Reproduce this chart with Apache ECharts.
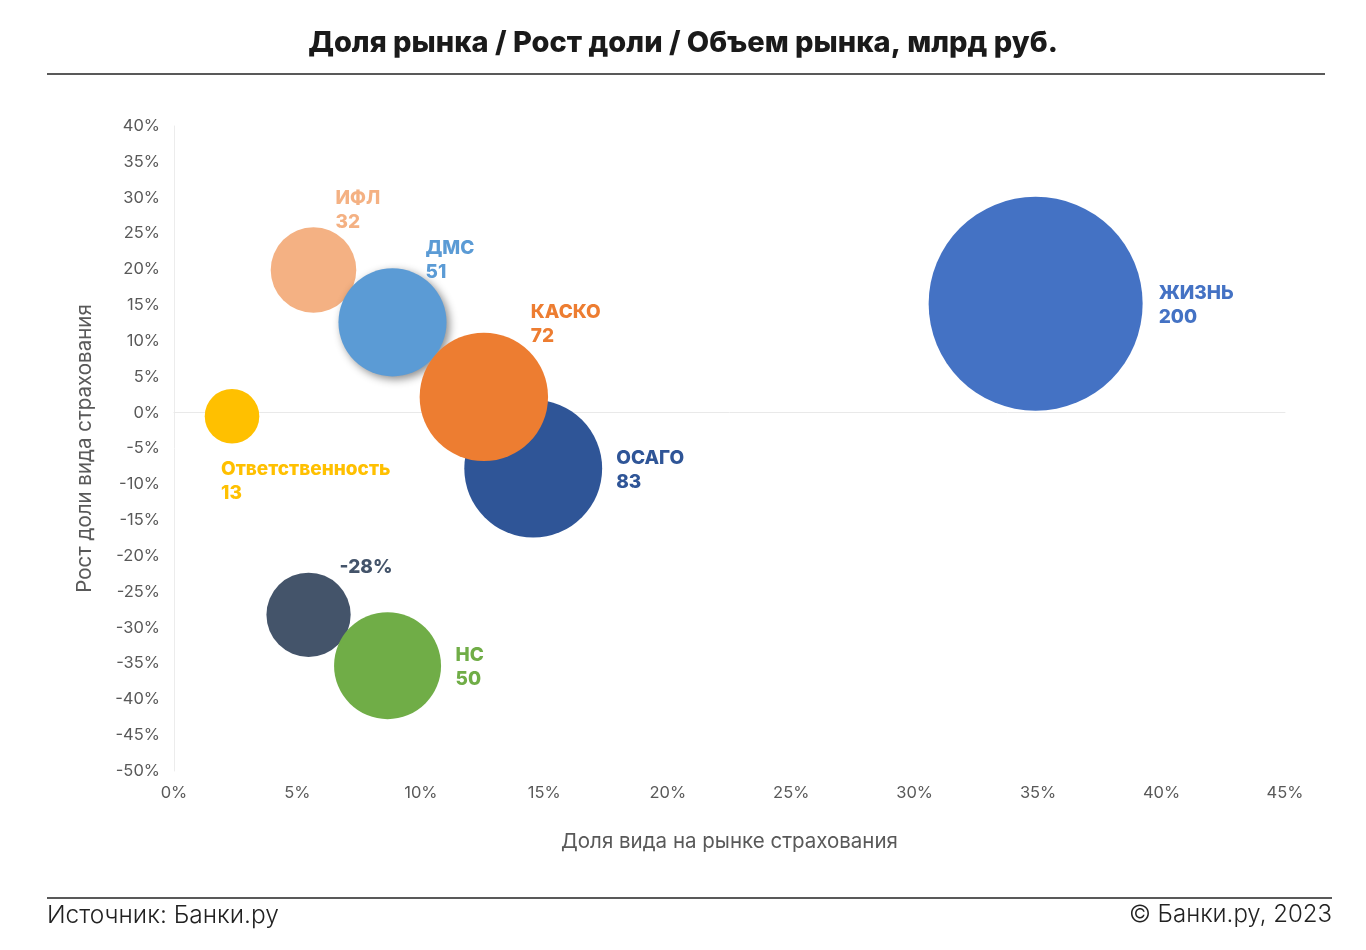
<!DOCTYPE html>
<html><head><meta charset="utf-8">
<script src="https://cdn.jsdelivr.net/npm/echarts@6/dist/echarts.min.js"></script>
<style>html,body{margin:0;padding:0;background:#fff}#c{width:1366px;height:950px}</style>
</head><body><div id="c"></div>
<script>
// ---- data ----
const names = ['ЖИЗНЬ','ОСАГО','ИФЛ','ДМС','КАСКО','Ответственность','Прочее','НС'];
const shareX = [34.9, 14.55, 5.65, 8.85, 12.55, 2.35, 5.45, 8.65];   // Доля вида на рынке, %
const growthY = [15.2, -7.8, 19.9, 12.6, 2.2, -0.5, -28.2, -35.3];   // Рост доли, %
const volume = [200, 83, 32, 51, 72, 13, 31, 50];                     // Объем рынка, млрд руб.
const labelTexts = ['ЖИЗНЬ\n200','ОСАГО\n83','ИФЛ\n32','ДМС\n51','КАСКО\n72','Ответственность\n13','-28%','НС\n50'];
const xTicks = {min: 0, max: 45, interval: 5};
const yTicks = {min: -50, max: 40, interval: 5};

// ---- styles ----
const colors = ['#4472C4','#2F5597','#F4B183','#5B9BD5','#ED7D31','#FFC000','#44546A','#70AD47'];
const labelOffsets = [[123,2],[83,2],[22,-60],[33,-62],[47,-73],[-11,65],[31,-47],[68,2]];
const shadowed = [false,false,false,true,false,false,false,false];
const maxDiameter = 214;
const FONT = 'Inter';

const chart = echarts.init(document.getElementById('c'));
const data = names.map((n,i)=>({
  name: n,
  value: [shareX[i], growthY[i], volume[i]],
  itemStyle: Object.assign({color: colors[i], opacity: 1},
    shadowed[i] ? {shadowBlur: 8, shadowColor: 'rgba(0,0,0,0.45)', shadowOffsetX: 3, shadowOffsetY: 3} : {}),
  label: {
    show: true, position: 'inside', align: 'left', verticalAlign: 'middle',
    offset: labelOffsets[i], formatter: labelTexts[i],
    color: colors[i], fontFamily: FONT, fontWeight: 800, fontSize: 19, lineHeight: 24
  }
}));

chart.setOption({
  animation: false,
  backgroundColor: '#fff',
  textStyle: {fontFamily: FONT},
  grid: {left: 174, right: 81, top: 126, bottom: 179, containLabel: false},
  xAxis: [{
    type: 'value', min: xTicks.min, max: xTicks.max, interval: xTicks.interval,
    axisLine: {show: false, onZero: false}, axisTick: {show: false}, splitLine: {show: false},
    axisLabel: {formatter: '{value}%', color: '#595959', fontSize: 16.5, margin: 14, fontFamily: FONT},
    name: 'Доля вида на рынке страхования', nameLocation: 'middle', nameGap: 60,
    nameTextStyle: {color: '#595959', fontSize: 20.5, fontFamily: FONT}
  },{
    type: 'value', min: xTicks.min, max: xTicks.max, interval: xTicks.interval,
    axisLine: {show: true, onZero: true, lineStyle: {color: '#e9e9e9', width: 1}},
    axisTick: {show: false}, axisLabel: {show: false}, splitLine: {show: false}
  }],
  yAxis: {
    type: 'value', min: yTicks.min, max: yTicks.max, interval: yTicks.interval,
    axisLine: {show: true, lineStyle: {color: '#ececec', width: 1}}, axisTick: {show: false}, splitLine: {show: false},
    axisLabel: {formatter: '{value}%', color: '#595959', fontSize: 16.5, margin: 14, fontFamily: FONT},
    name: 'Рост доли вида страхования', nameLocation: 'middle', nameGap: 79,
    nameTextStyle: {color: '#595959', fontSize: 20.5, fontFamily: FONT}
  },
  series: [{
    type: 'scatter', xAxisIndex: 0, data: data,
    symbolSize: v => maxDiameter * Math.sqrt(v[2] / Math.max(...volume)),
    emphasis: {disabled: true}
  }],
  graphic: [
    {type: 'text', left: 'center', top: 29, style: {text: 'Доля рынка / Рост доли / Объем рынка, млрд руб.', font: '800 29px ' + FONT, fill: '#1a1a1a'}},
    {type: 'line', shape: {x1: 47, y1: 74, x2: 1325, y2: 74}, style: {stroke: '#222', lineWidth: 1.5}},
    {type: 'line', shape: {x1: 47, y1: 898, x2: 1332, y2: 898}, style: {stroke: '#222', lineWidth: 1.5}},
    {type: 'text', left: 47, top: 903, style: {text: 'Источник: Банки.ру', font: '300 24.5px ' + FONT, fill: '#222'}},
    {type: 'text', right: 34, top: 903, style: {text: '© Банки.ру, 2023', font: '300 24px ' + FONT, fill: '#222'}}
  ]
});
</script></body></html>
